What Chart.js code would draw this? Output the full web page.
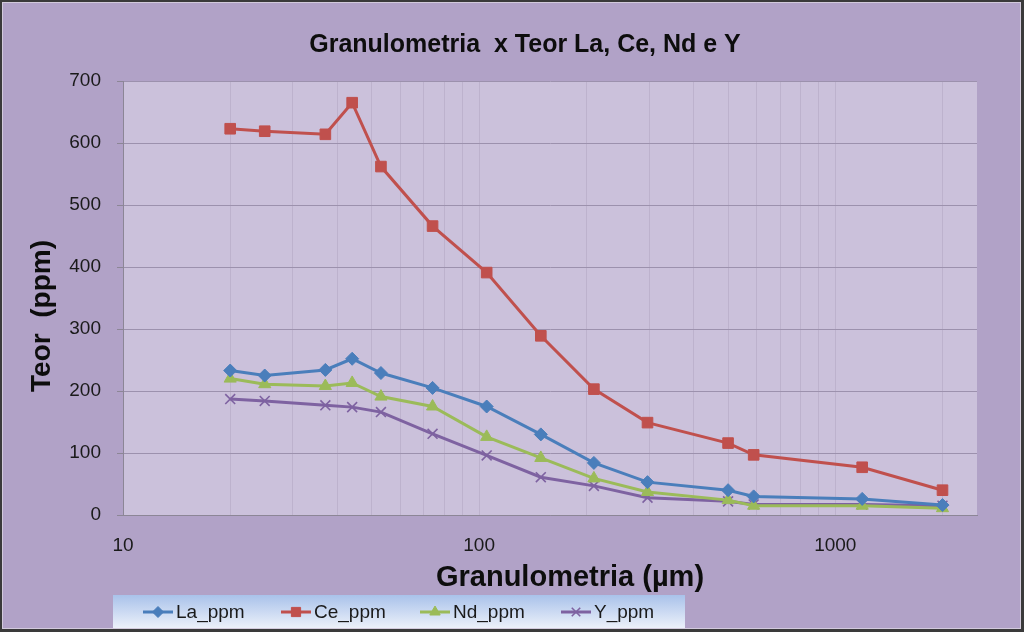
<!DOCTYPE html>
<html><head><meta charset="utf-8">
<script src="https://cdn.jsdelivr.net/npm/chart.js@4/dist/chart.umd.min.js"></script>
<style>html,body{margin:0;padding:0;background:#b1a2c7}#wrap{width:1024px;height:632px;position:relative}canvas{display:block}</style>
</head><body><div id="wrap"><canvas id="c" width="1024" height="632"></canvas></div>
<script>
// Data (granulometry in µm, contents in ppm)
const sizes = [20, 25, 37, 44, 53, 74, 105, 149, 210, 297, 500, 590, 1190, 2000];
const laPpm = [233, 225, 234, 252, 229, 205, 175, 130, 84, 53, 40, 30, 26, 16];
const cePpm = [623, 619, 614, 665, 562, 466, 391, 289, 203, 149, 116, 97, 77, 40];
const ndPpm = [220, 211, 208, 213, 191, 175, 126, 92, 59, 37, 24, 15, 15, 11];
const yPpm  = [187, 184, 177, 174, 166, 131, 96, 61, 47, 28, 22, 17, 17, 15];
const seriesNames = ['La_ppm', 'Ce_ppm', 'Nd_ppm', 'Y_ppm'];
const xGridValues = [10, 20, 30, 40, 50, 60, 70, 80, 90, 100, 200, 300, 400, 500, 600, 700, 800, 900, 1000, 2000];
const xTickLabels = ['10', '100', '1000'];
const yTickValues = [0, 100, 200, 300, 400, 500, 600, 700];
const chartTitle = 'Granulometria  x Teor La, Ce, Nd e Y';
const xTitle = 'Granulometria (µm)';
const yTitle = 'Teor  (ppm)';

const colors = ['#4a7ebb', '#c0504d', '#9bbb59', '#7e62a1'];
const styles = ['rectRot', 'rect', 'triangle', 'crossRot'];
const radii = [6.5, 7.5, 7, 7];
const values = [laPpm, cePpm, ndPpm, yPpm];

const datasets = seriesNames.map((name, i) => ({
  label: name,
  data: sizes.map((s, j) => ({ x: s, y: values[i][j] })),
  borderColor: colors[i],
  backgroundColor: colors[i],
  borderWidth: 3,
  pointStyle: styles[i],
  pointRadius: radii[i],
  pointBackgroundColor: colors[i],
  pointBorderColor: colors[i],
  pointBorderWidth: i === 3 ? 1.6 : 1,
  tension: 0
}));

const deco = {
  id: 'deco',
  beforeDraw(chart) {
    const ctx = chart.ctx, a = chart.chartArea;
    ctx.save();
    ctx.fillStyle = '#b1a2c7';
    ctx.fillRect(0, 0, chart.width, chart.height);
    ctx.fillStyle = '#cbc1db';
    ctx.fillRect(a.left, a.top, a.right - a.left, a.bottom - a.top);
    ctx.restore();
  },
  afterDraw(chart) {
    const ctx = chart.ctx;
    ctx.save();
    // titles
    ctx.fillStyle = '#0d0d0d';
    ctx.textAlign = 'center';
    ctx.textBaseline = 'middle';
    ctx.font = 'bold 25px "Liberation Sans", Arial, sans-serif';
    ctx.fillText(chartTitle, 525, 45);
    ctx.font = 'bold 29px "Liberation Sans", Arial, sans-serif';
    ctx.fillText(xTitle, 570, 578);
    ctx.save();
    ctx.translate(42, 316);
    ctx.rotate(-Math.PI / 2);
    ctx.font = 'bold 28px "Liberation Sans", Arial, sans-serif';
    ctx.fillText(yTitle, 0, 0);
    ctx.restore();
    // legend box
    const g = ctx.createLinearGradient(0, 595, 0, 629);
    g.addColorStop(0, '#a9c2ea');
    g.addColorStop(1, '#eef2fa');
    ctx.fillStyle = g;
    ctx.fillRect(113, 595, 572, 34);
    const iconX = [143, 281, 420, 561];
    const ly = 612;
    chart.data.datasets.forEach((ds, i) => {
      ctx.strokeStyle = ds.borderColor;
      ctx.lineWidth = 3;
      ctx.beginPath();
      ctx.moveTo(iconX[i], ly);
      ctx.lineTo(iconX[i] + 30, ly);
      ctx.stroke();
      ctx.fillStyle = ds.borderColor;
      ctx.lineWidth = ds.pointBorderWidth;
      Chart.helpers.drawPoint(ctx, { pointStyle: ds.pointStyle, radius: ds.pointRadius - 1, rotation: 0, borderWidth: ds.pointBorderWidth }, iconX[i] + 15, ly);
      ctx.fillStyle = '#1a1a1a';
      ctx.textAlign = 'left';
      ctx.textBaseline = 'middle';
      ctx.font = '19px "Liberation Sans", Arial, sans-serif';
      ctx.fillText(ds.label, iconX[i] + 33, ly + 1);
    });
    // frame
    ctx.strokeStyle = '#d2cadc';
    ctx.lineWidth = 1;
    ctx.strokeRect(2.5, 2.5, chart.width - 6, chart.height - 6);
    ctx.strokeStyle = '#3a3a3a';
    ctx.lineWidth = 2;
    ctx.strokeRect(1, 1, chart.width - 3, chart.height - 3);
    ctx.lineWidth = 3;
    ctx.beginPath();
    ctx.moveTo(chart.width - 1.5, 0); ctx.lineTo(chart.width - 1.5, chart.height);
    ctx.moveTo(0, chart.height - 1.5); ctx.lineTo(chart.width, chart.height - 1.5);
    ctx.stroke();
    ctx.restore();
  }
};

new Chart(document.getElementById('c'), {
  type: 'line',
  data: { datasets },
  options: {
    responsive: false,
    animation: false,
    layout: { padding: { left: 60, right: 47, top: 81, bottom: 77 } },
    plugins: { legend: { display: false }, title: { display: false }, tooltip: { enabled: false } },
    scales: {
      x: {
        type: 'logarithmic',
        min: 10,
        max: 2500,
        afterBuildTicks: s => { s.ticks = xGridValues.map(v => ({ value: v })); },
        afterFit: s => { s.height = 40; },
        grid: { color: '#bdb2cd', lineWidth: 1, drawTicks: false },
        border: { color: '#8c8696', width: 1 },
        ticks: {
          autoSkip: false, maxRotation: 0, padding: 19,
          color: '#1a1a1a',
          font: { family: '"Liberation Sans", Arial, sans-serif', size: 19 },
          callback: v => xTickLabels.includes(String(v)) ? String(v) : ''
        }
      },
      y: {
        min: 0,
        max: 700,
        afterBuildTicks: s => { s.ticks = yTickValues.map(v => ({ value: v })); },
        afterFit: s => { s.width = 63; },
        grid: { color: '#9c91ad', lineWidth: 1, tickLength: 6, tickColor: '#8c8696' },
        border: { color: '#8c8696', width: 1 },
        ticks: {
          padding: 16,
          color: '#1a1a1a',
          font: { family: '"Liberation Sans", Arial, sans-serif', size: 19 }
        }
      }
    }
  },
  plugins: [deco]
});
</script>
</body></html>
